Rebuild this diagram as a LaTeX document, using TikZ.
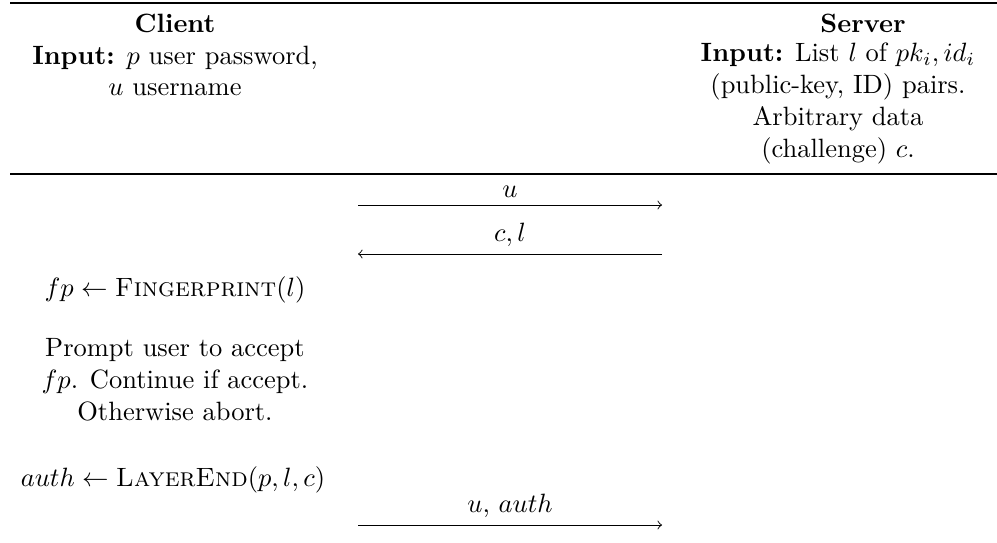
\documentclass[tikz,border=0pt]{standalone}
\usepackage{amsmath}
\begin{document}
\begin{tikzpicture}[
  x=0.01327cm, y=-0.01327cm,
  txt/.style={align=center, inner sep=0pt},
  msg/.style={->, line width=0.35pt},
  msglbl/.style={above, inner sep=2.5pt}
]
\useasboundingbox (0,0) rectangle (997,542);

% ---- Header ----
\draw[line width=0.4pt] (10,3) -- (997,3);
\node[txt] (client) at (175,55)
  {\textbf{Client}\\ \textbf{Input:} $p$ user password,\\ $u$ username};
\node[txt] (server) at (863,23) {\textbf{Server}};
\node[txt] (serverin) at (838,103.5)
  {\textbf{Input:} List $l$ of $pk_i, id_i$\\ (public-key, ID) pairs.\\
   Arbitrary data\\ (challenge) $c$.};
\draw[line width=0.8pt] (10,174) -- (997,174);

% ---- Message ends ----
\coordinate (cl1) at (358,205);  \coordinate (sv1) at (662,205);
\coordinate (cl2) at (358,254);  \coordinate (sv2) at (662,254);
\coordinate (cl3) at (358,525);  \coordinate (sv3) at (662,525);

% ---- Messages ----
\draw[msg] (cl1) -- node[msglbl] {$u$} (sv1);
\draw[msg] (sv2) -- node[msglbl] {$c, l$} (cl2);
\draw[msg] (cl3) -- node[msglbl] {$u$, $auth$} (sv3);

% ---- Client steps ----
\node[txt] (fp) at (175,290) {$fp \gets \textsc{Fingerprint}(l)$};
\node[txt] (prompt) at (175,380)
  {Prompt user to accept\\ $fp$. Continue if accept.\\ Otherwise abort.};
\node[txt] (auth) at (173,480) {$auth \gets \textsc{LayerEnd}(p, l, c)$};
\end{tikzpicture}
\end{document}
